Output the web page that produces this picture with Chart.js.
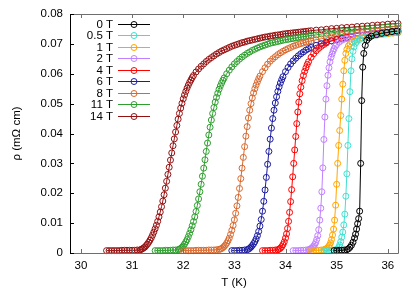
<!DOCTYPE html>
<html lang="en">
<head>
    <meta charset="UTF-8">
    <title>Resistivity vs temperature</title>
    <script src="https://cdn.jsdelivr.net/npm/chart.js"></script>
    <style>
        body { margin: 0; background: #fff; }
    </style>
</head>
<body>
    <canvas id="rhoChart" width="415" height="291"></canvas>

    <script>
        // field labels and colours (legend order)
        const fields = ["0 T", "0.5 T", "1 T", "2 T", "4 T", "6 T", "8 T", "11 T", "14 T"];
        const colors = ["#000000", "#40e0d0", "#ffa500", "#c080ff", "#ff0000", "#1c1ca0", "#d8692e", "#2e9e2e", "#951010"];

        const xTicks = [30, 31, 32, 33, 34, 35, 36];
        const yTicks = [0, 0.01, 0.02, 0.03, 0.04, 0.05, 0.06, 0.07, 0.08];

        // [T (K), rho (mOhm cm)]
        const d0 = [[34.95,0.0008],[35.00,0.0008],[35.05,0.0009],[35.10,0.0009],[35.15,0.0010],[35.20,0.0011],
            [35.23,0.0014],[35.26,0.0019],[35.29,0.0026],[35.32,0.0036],[35.35,0.0050],[35.37,0.0063],[35.39,0.0080],
            [35.41,0.0098],[35.43,0.0115],[35.45,0.0140],[35.47,0.0300],[35.49,0.0510],[35.51,0.0622],[35.53,0.0668],
            [35.56,0.0695],[35.59,0.0712],[35.63,0.0720],[35.68,0.0726],[35.78,0.0731],[35.88,0.0735],[35.98,0.0738],
            [36.08,0.0741],[36.18,0.0743]];

        const d05 = [[34.75,0.0008],[34.80,0.0008],[34.85,0.0009],[34.90,0.0009],[34.95,0.0010],[35.00,0.0011],
            [35.02,0.0014],[35.04,0.0019],[35.06,0.0027],[35.08,0.0038],[35.10,0.0053],[35.12,0.0070],[35.14,0.0094],
            [35.16,0.0130],[35.18,0.0190],[35.20,0.0265],[35.22,0.0360],[35.24,0.0450],[35.26,0.0540],[35.28,0.0610],
            [35.30,0.0650],[35.32,0.0675],[35.34,0.0690],[35.37,0.0702],[35.40,0.0709],[35.45,0.0715],[35.55,0.0722],
            [35.65,0.0726],[35.75,0.0729],[35.85,0.0732],[35.95,0.0734],[36.05,0.0736],[36.15,0.0738],[36.20,0.0739]];

        const d1 = [[34.50,0.0008],[34.55,0.0008],[34.60,0.0009],[34.65,0.0009],[34.70,0.0010],[34.75,0.0011],
            [34.78,0.0013],[34.81,0.0016],[34.84,0.0021],[34.86,0.0026],[34.88,0.0034],[34.90,0.0045],[34.92,0.0060],
            [34.94,0.0080],[34.96,0.0110],[34.98,0.0160],[35.00,0.0230],[35.02,0.0300],[35.04,0.0360],[35.06,0.0410],
            [35.08,0.0460],[35.10,0.0515],[35.12,0.0565],[35.14,0.0610],[35.16,0.0645],[35.18,0.0668],[35.20,0.0682],
            [35.23,0.0693],[35.26,0.0700],[35.30,0.0706],[35.35,0.0711],[35.40,0.0715],[35.50,0.0720],[35.60,0.0724],
            [35.70,0.0727],[35.80,0.0730],[35.90,0.0732],[36.00,0.0734],[36.10,0.0736],[36.20,0.0737]];

        const d2 = [[34.15,0.0008],[34.20,0.0008],[34.25,0.0008],[34.30,0.0009],[34.35,0.0009],[34.40,0.0010],[34.45,0.0011],
            [34.47,0.0012],[34.49,0.0014],[34.51,0.0016],[34.53,0.0019],[34.55,0.0023],[34.57,0.0028],[34.59,0.0035],
            [34.61,0.0045],[34.63,0.0058],[34.65,0.0078],[34.67,0.0110],[34.69,0.0150],[34.71,0.0205],[34.73,0.0285],
            [34.75,0.0380],[34.77,0.0455],[34.79,0.0515],[34.81,0.0560],[34.83,0.0595],[34.85,0.0620],[34.87,0.0640],
            [34.89,0.0655],[34.91,0.0666],[34.93,0.0676],[34.95,0.0684],[34.975,0.0692],[35.00,0.0698],[35.05,0.0706],
            [35.10,0.0712],[35.15,0.0716],[35.20,0.0719],[35.30,0.0724],[35.40,0.0727],[35.50,0.0729],[35.60,0.0731],
            [35.70,0.0733],[35.80,0.0734],[35.90,0.0736],[36.00,0.0737],[36.10,0.0738],[36.20,0.0739]];

        const d4 = [[33.55,0.0008],[33.60,0.0008],[33.65,0.0008],[33.70,0.0009],[33.75,0.0009],[33.80,0.0010],[33.85,0.0011],
            [33.875,0.0013],[33.90,0.0016],[33.925,0.0021],[33.95,0.0028],[33.975,0.0037],[34.00,0.0050],[34.02,0.0064],
            [34.04,0.0082],[34.06,0.0106],[34.08,0.0136],[34.10,0.0172],[34.12,0.0212],[34.14,0.0255],[34.16,0.0300],
            [34.18,0.0345],[34.20,0.0390],[34.22,0.0433],[34.24,0.0472],[34.26,0.0505],[34.28,0.0533],[34.30,0.0555],
            [34.325,0.0577],[34.35,0.0594],[34.375,0.0608],[34.40,0.0620],[34.425,0.0631],[34.45,0.0640],[34.50,0.0655],
            [34.55,0.0667],[34.60,0.0677],[34.65,0.0685],[34.70,0.0692],[34.75,0.0698],[34.80,0.0703],[34.90,0.0710],
            [35.00,0.0715],[35.10,0.0719],[35.20,0.0722],[35.30,0.0725],[35.40,0.0727],[35.50,0.0729],[35.60,0.0731],
            [35.70,0.0733],[35.80,0.0735],[35.90,0.0737],[36.00,0.0738],[36.10,0.0740],[36.20,0.0741]];

        const d6 = [[32.95,0.0008],[33.00,0.0008],[33.05,0.0008],[33.10,0.0009],[33.15,0.0009],[33.20,0.0010],[33.25,0.0011],
            [33.275,0.0013],[33.30,0.0016],[33.325,0.0020],[33.35,0.0025],[33.375,0.0031],[33.40,0.0038],[33.425,0.0047],
            [33.45,0.0058],[33.475,0.0072],[33.50,0.0090],[33.525,0.0112],[33.55,0.0140],[33.575,0.0173],[33.60,0.0211],
            [33.625,0.0253],[33.65,0.0297],[33.675,0.0340],[33.70,0.0381],[33.725,0.0418],[33.75,0.0450],[33.775,0.0478],
            [33.80,0.0502],[33.825,0.0523],[33.85,0.0541],[33.875,0.0556],[33.90,0.0569],[33.925,0.0580],[33.95,0.0590],
            [34.00,0.0607],[34.05,0.0621],[34.10,0.0633],[34.15,0.0643],[34.20,0.0652],[34.25,0.0660],[34.30,0.0667],
            [34.35,0.0673],[34.40,0.0679],[34.45,0.0684],[34.50,0.0688],[34.60,0.0695],[34.70,0.0701],[34.80,0.0706],
            [34.90,0.0710],[35.00,0.0714],[35.10,0.0717],[35.20,0.0720],[35.30,0.0723],[35.40,0.0726],[35.50,0.0728],
            [35.60,0.0731],[35.70,0.0733],[35.80,0.0735],[35.90,0.0737],[36.00,0.0739],[36.10,0.0741],[36.20,0.0743]];

        const d8 = [[32.00,0.0008],[32.05,0.0008],[32.10,0.0008],[32.15,0.0008],[32.20,0.0008],[32.25,0.0009],[32.30,0.0009],
            [32.35,0.0009],[32.40,0.0009],[32.45,0.0009],[32.50,0.0010],[32.55,0.0010],[32.60,0.0010],[32.65,0.0011],[32.70,0.0012],
            [32.725,0.0013],[32.75,0.0015],[32.775,0.0018],[32.80,0.0022],[32.825,0.0027],[32.85,0.0033],[32.875,0.0041],
            [32.90,0.0050],[32.925,0.0062],[32.95,0.0076],[32.975,0.0092],[33.00,0.0111],[33.025,0.0133],[33.05,0.0158],
            [33.075,0.0186],[33.10,0.0216],[33.125,0.0249],[33.15,0.0284],[33.175,0.0320],[33.20,0.0356],[33.225,0.0391],
            [33.25,0.0423],[33.275,0.0452],[33.30,0.0478],[33.325,0.0500],[33.35,0.0519],[33.375,0.0536],[33.40,0.0550],
            [33.425,0.0562],[33.45,0.0573],[33.475,0.0583],[33.50,0.0592],[33.55,0.0607],[33.60,0.0620],[33.65,0.0632],
            [33.70,0.0642],[33.75,0.0650],[33.80,0.0657],[33.85,0.0664],[33.90,0.0670],[33.95,0.0675],[34.00,0.0680],
            [34.05,0.0684],[34.10,0.0688],[34.15,0.0692],[34.20,0.0695],[34.25,0.0698],[34.30,0.0701],[34.35,0.0703],
            [34.40,0.0706],[34.45,0.0708],[34.50,0.0710],[34.60,0.0714],[34.70,0.0717],[34.80,0.0720],[34.90,0.0723],
            [35.00,0.0726],[35.10,0.0728],[35.20,0.0731],[35.30,0.0733],[35.40,0.0735],[35.50,0.0737],[35.60,0.0739],
            [35.70,0.0741],[35.80,0.0743],[35.90,0.0745],[36.00,0.0747],[36.10,0.0749],[36.20,0.0751]];

        const d11 = [[31.45,0.0008],[31.50,0.0008],[31.55,0.0008],[31.60,0.0008],[31.65,0.0009],[31.70,0.0009],[31.75,0.0009],
            [31.80,0.0010],[31.85,0.0010],[31.90,0.0011],[31.925,0.0013],[31.95,0.0015],[31.975,0.0019],[32.00,0.0024],
            [32.025,0.0030],[32.05,0.0037],[32.075,0.0045],[32.10,0.0055],[32.125,0.0066],[32.15,0.0078],[32.175,0.0091],
            [32.20,0.0105],[32.225,0.0121],[32.25,0.0139],[32.275,0.0159],[32.30,0.0181],[32.325,0.0205],[32.35,0.0230],
            [32.375,0.0257],[32.40,0.0284],[32.425,0.0312],[32.45,0.0340],[32.475,0.0368],[32.50,0.0395],[32.525,0.0421],
            [32.55,0.0445],[32.575,0.0467],[32.60,0.0487],[32.625,0.0505],[32.65,0.0521],[32.675,0.0535],[32.70,0.0548],
            [32.725,0.0559],[32.75,0.0569],[32.775,0.0578],[32.80,0.0586],[32.85,0.0600],[32.90,0.0612],[32.95,0.0623],
            [33.00,0.0633],[33.05,0.0641],[33.10,0.0649],[33.15,0.0656],[33.20,0.0662],[33.25,0.0668],[33.30,0.0673],
            [33.35,0.0678],[33.40,0.0682],[33.45,0.0686],[33.50,0.0690],[33.55,0.0693],[33.60,0.0696],[33.65,0.0699],
            [33.70,0.0702],[33.75,0.0704],[33.80,0.0706],[33.85,0.0708],[33.90,0.0710],[33.95,0.0712],[34.00,0.0714],
            [34.05,0.0715],[34.10,0.0717],[34.15,0.0718],[34.20,0.0720],[34.25,0.0721],[34.30,0.0723],[34.35,0.0724],
            [34.40,0.0725],[34.45,0.0727],[34.50,0.0728],[34.60,0.0730],[34.70,0.0733],[34.80,0.0735],[34.90,0.0737],
            [35.00,0.0739],[35.10,0.0741],[35.20,0.0743],[35.30,0.0745],[35.40,0.0747],[35.50,0.0748],[35.60,0.0750],
            [35.70,0.0752],[35.80,0.0753],[35.90,0.0755],[36.00,0.0756],[36.10,0.0758],[36.20,0.0759]];

        const d14 = [[30.50,0.0008],[30.55,0.0008],[30.60,0.0008],[30.65,0.0008],[30.70,0.0008],[30.75,0.0008],[30.80,0.0009],
            [30.85,0.0009],[30.90,0.0009],[30.95,0.0009],[31.00,0.0009],[31.05,0.0009],[31.10,0.0010],[31.15,0.0010],
            [31.175,0.0012],[31.20,0.0014],[31.225,0.0017],[31.25,0.0020],[31.275,0.0025],[31.30,0.0030],[31.325,0.0036],
            [31.35,0.0043],[31.375,0.0051],[31.40,0.0060],[31.425,0.0070],[31.45,0.0081],[31.475,0.0093],[31.50,0.0106],
            [31.525,0.0121],[31.55,0.0137],[31.575,0.0155],[31.60,0.0174],[31.625,0.0195],[31.65,0.0217],[31.675,0.0240],
            [31.70,0.0263],[31.725,0.0287],[31.75,0.0311],[31.775,0.0335],[31.80,0.0359],[31.825,0.0382],[31.85,0.0405],
            [31.875,0.0427],[31.90,0.0448],[31.925,0.0467],[31.95,0.0485],[31.975,0.0501],[32.00,0.0516],[32.025,0.0529],
            [32.05,0.0541],[32.075,0.0552],[32.10,0.0562],[32.125,0.0571],[32.15,0.0579],[32.175,0.0587],[32.20,0.0594],
            [32.25,0.0606],[32.30,0.0616],[32.35,0.0625],[32.40,0.0633],[32.45,0.0641],[32.50,0.0648],[32.55,0.0654],
            [32.60,0.0660],[32.65,0.0666],[32.70,0.0671],[32.75,0.0676],[32.80,0.0680],[32.85,0.0684],[32.90,0.0688],
            [32.95,0.0692],[33.00,0.0695],[33.05,0.0698],[33.10,0.0701],[33.15,0.0704],[33.20,0.0706],[33.25,0.0709],
            [33.30,0.0711],[33.35,0.0713],[33.40,0.0715],[33.45,0.0717],[33.50,0.0719],[33.55,0.0721],[33.60,0.0723],
            [33.65,0.0724],[33.70,0.0726],[33.75,0.0727],[33.80,0.0729],[33.85,0.0730],[33.90,0.0731],[33.95,0.0733],
            [34.00,0.0734],[34.05,0.0735],[34.10,0.0736],[34.15,0.0737],[34.20,0.0738],[34.25,0.0739],[34.30,0.0740],
            [34.35,0.0741],[34.40,0.0742],[34.45,0.0743],[34.50,0.0744],[34.60,0.0746],[34.70,0.0747],[34.80,0.0749],
            [34.90,0.0751],[35.00,0.0752],[35.10,0.0754],[35.20,0.0755],[35.30,0.0756],[35.40,0.0758],[35.50,0.0759],
            [35.60,0.0760],[35.70,0.0762],[35.80,0.0763],[35.90,0.0764],[36.00,0.0766],[36.10,0.0767],[36.20,0.0768]];

        const series = [d0, d05, d1, d2, d4, d6, d8, d11, d14];

        const FONT = "'Liberation Sans', Arial, sans-serif";
        const FRAME = "#6e6e6e";

        // gnuplot-like frame: inward ticks on all four sides, legend at top left
        const framePlugin = {
            id: "frame",
            afterDatasetsDraw(chart) {
                const { ctx, chartArea: a, scales: { x, y } } = chart;
                const tl = 4;
                ctx.save();
                ctx.lineWidth = 1;

                ctx.strokeStyle = FRAME;
                ctx.beginPath();
                ctx.moveTo(a.left, a.top + 0.5); ctx.lineTo(a.right + 0.5, a.top + 0.5);
                ctx.lineTo(a.right + 0.5, a.bottom + 0.5); ctx.lineTo(a.left, a.bottom + 0.5);
                xTicks.forEach(v => {
                    const px = Math.round(x.getPixelForValue(v)) + 0.5;
                    ctx.moveTo(px, a.bottom); ctx.lineTo(px, a.bottom - tl);
                    ctx.moveTo(px, a.top); ctx.lineTo(px, a.top + tl);
                });
                yTicks.forEach(v => {
                    const py = Math.round(y.getPixelForValue(v)) + 0.5;
                    ctx.moveTo(a.right, py); ctx.lineTo(a.right - tl, py);
                });
                ctx.stroke();

                ctx.strokeStyle = "#000";
                ctx.beginPath();
                ctx.moveTo(a.left + 0.5, a.top); ctx.lineTo(a.left + 0.5, a.bottom + 1);
                yTicks.forEach(v => {
                    const py = Math.round(y.getPixelForValue(v)) + 0.5;
                    ctx.moveTo(a.left, py); ctx.lineTo(a.left + tl, py);
                });
                ctx.stroke();

                // legend
                ctx.font = "11.5px " + FONT;
                ctx.textAlign = "right";
                ctx.textBaseline = "middle";
                chart.data.datasets.forEach((ds, i) => {
                    const ly = Math.round(a.top + 9.5 + i * 11.55) + 0.5;
                    ctx.fillStyle = "#000";
                    ctx.fillText(ds.label, a.left + 43, ly);
                    ctx.strokeStyle = ds.borderColor;
                    ctx.beginPath();
                    ctx.moveTo(a.left + 48, ly); ctx.lineTo(a.left + 80, ly);
                    ctx.stroke();
                    ctx.beginPath();
                    ctx.arc(a.left + 64, ly, 3, 0, Math.PI * 2);
                    ctx.stroke();
                });
                ctx.restore();
            }
        };

        const ctx = document.getElementById("rhoChart").getContext("2d");
        new Chart(ctx, {
            type: "scatter",
            data: {
                datasets: series.map((pts, i) => ({
                    label: fields[i],
                    data: pts.map(p => ({ x: p[0], y: p[1] })),
                    showLine: true,
                    borderColor: colors[i],
                    borderWidth: 1,
                    pointRadius: 3,
                    pointBorderWidth: 1,
                    pointBorderColor: colors[i],
                    pointBackgroundColor: "rgba(0,0,0,0)",
                    clip: false
                }))
            },
            options: {
                responsive: false,
                animation: false,
                events: [],
                layout: { padding: { left: 0, right: 17, top: 14, bottom: 0 } },
                plugins: { legend: { display: false }, tooltip: { enabled: false } },
                scales: {
                    x: {
                        type: "linear",
                        min: 29.785,
                        max: 36.2,
                        afterBuildTicks: s => { s.ticks = xTicks.map(v => ({ value: v })); },
                        afterFit: s => { s.height = 38; },
                        grid: { display: false, drawTicks: false },
                        border: { display: false },
                        ticks: { color: "#000", padding: 6, font: { family: FONT, size: 11.5 }, callback: v => String(v) },
                        title: { display: true, text: "T (K)", color: "#000", padding: { top: 0, bottom: 1 }, font: { family: FONT, size: 11.5 } }
                    },
                    y: {
                        type: "linear",
                        min: 0,
                        max: 0.08,
                        afterBuildTicks: s => { s.ticks = yTicks.map(v => ({ value: v })); },
                        afterFit: s => { s.width = 70; },
                        grid: { display: false, drawTicks: false },
                        border: { display: false },
                        ticks: { color: "#000", padding: 7, font: { family: FONT, size: 11.5 }, callback: v => String(v) },
                        title: { display: true, text: "ρ (mΩ cm)", color: "#000", padding: { top: 10, bottom: 0 }, font: { family: FONT, size: 11.5 } }
                    }
                }
            },
            plugins: [framePlugin]
        });
    </script>
</body>
</html>
